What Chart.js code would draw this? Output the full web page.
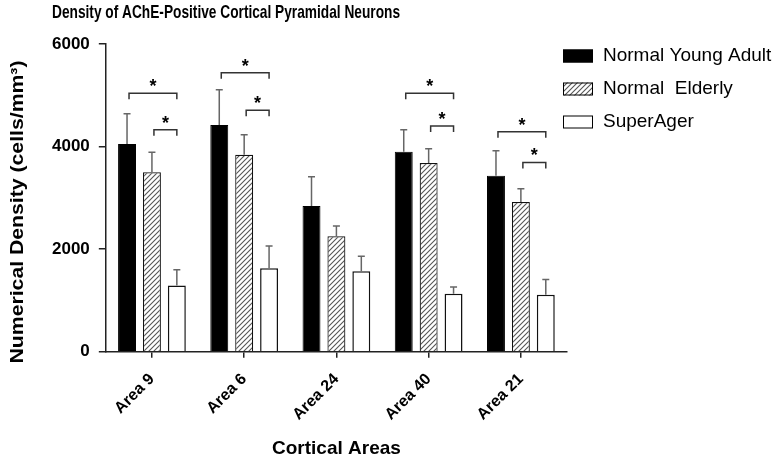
<!DOCTYPE html>
<html>
<head>
<meta charset="utf-8">
<script src="https://cdn.jsdelivr.net/npm/chart.js"></script>
<style>
  html, body { margin: 0; padding: 0; background: #fff; }
  #wrap { width: 773px; height: 461px; }
</style>
</head>
<body>
<div id="wrap"><canvas id="c"></canvas></div>
<script>
const categories = ['Area 9', 'Area 6', 'Area 24', 'Area 40', 'Area 21'];
const seriesNames = ['Normal Young Adult', 'Normal  Elderly', 'SuperAger'];
const youngAdult = [4050, 4420, 2840, 3900, 3430];
const elderly = [3500, 3840, 2250, 3680, 2920];
const superAger = [1290, 1630, 1570, 1130, 1110];
// upward error bars (SEM)
const youngErr = [590, 690, 570, 430, 490];
const elderlyErr = [390, 390, 200, 280, 260];
const superErr = [310, 430, 290, 130, 300];
// significance brackets: young vs superager, elderly vs superager
const bracketBig = [5040, 5440, null, 5040, 4290];
const bracketSmall = [4330, 4710, null, 4400, 3690];
const yTicks = [0, 2000, 4000, 6000];

const FONT = "'Liberation Sans', Arial, sans-serif";
const canvas = document.getElementById('c');
const ctx0 = canvas.getContext('2d');

function makeHatch() {
  const p = document.createElement('canvas');
  p.width = 5; p.height = 5;
  const g = p.getContext('2d');
  g.fillStyle = '#fff';
  g.fillRect(0, 0, 5, 5);
  g.strokeStyle = '#555';
  g.lineWidth = 1.1;
  g.beginPath();
  g.moveTo(0, 5); g.lineTo(5, 0);
  g.moveTo(-2.5, 2.5); g.lineTo(2.5, -2.5);
  g.moveTo(2.5, 7.5); g.lineTo(7.5, 2.5);
  g.stroke();
  return ctx0.createPattern(p, 'repeat');
}
const hatch = makeHatch();

const errors = [youngErr, elderlyErr, superErr];

const errorBarPlugin = {
  id: 'errorBars',
  afterDatasetsDraw(chart) {
    const ctx = chart.ctx;
    const y = chart.scales.y;
    ctx.save();
    ctx.strokeStyle = '#666';
    ctx.lineWidth = 1.5;
    chart.data.datasets.forEach((ds, i) => {
      const meta = chart.getDatasetMeta(i);
      meta.data.forEach((bar, j) => {
        const top = y.getPixelForValue(ds.data[j] + errors[i][j]);
        ctx.beginPath();
        ctx.moveTo(bar.x, bar.y);
        ctx.lineTo(bar.x, top);
        ctx.moveTo(bar.x - 3.5, top);
        ctx.lineTo(bar.x + 3.5, top);
        ctx.stroke();
      });
    });
    ctx.restore();
  }
};

const bracketPlugin = {
  id: 'brackets',
  afterDatasetsDraw(chart) {
    const ctx = chart.ctx;
    const y = chart.scales.y;
    const m0 = chart.getDatasetMeta(0), m1 = chart.getDatasetMeta(1), m2 = chart.getDatasetMeta(2);
    ctx.save();
    ctx.strokeStyle = '#333';
    ctx.lineWidth = 1.5;
    ctx.fillStyle = '#000';
    ctx.font = 'bold 18px ' + FONT;
    ctx.textAlign = 'center';
    ctx.textBaseline = 'middle';
    const draw = (x1, x2, v) => {
      const py = y.getPixelForValue(v);
      ctx.beginPath();
      ctx.moveTo(x1, py + 6);
      ctx.lineTo(x1, py);
      ctx.lineTo(x2, py);
      ctx.lineTo(x2, py + 6);
      ctx.stroke();
      ctx.fillText('*', (x1 + x2) / 2, py - 6);
    };
    categories.forEach((c, j) => {
      if (bracketBig[j] != null) draw(m0.data[j].x + 2, m2.data[j].x, bracketBig[j]);
      if (bracketSmall[j] != null) draw(m1.data[j].x + 2, m2.data[j].x, bracketSmall[j]);
    });
    ctx.restore();
  }
};

function fitText(ctx, text, x, y, targetWidth, rotate) {
  const w = ctx.measureText(text).width;
  ctx.save();
  ctx.translate(x, y);
  if (rotate) ctx.rotate(-Math.PI / 2);
  ctx.scale(targetWidth / w, 1);
  ctx.fillText(text, 0, 0);
  ctx.restore();
}

const decorPlugin = {
  id: 'decor',
  afterDraw(chart) {
    const ctx = chart.ctx;
    ctx.save();
    ctx.fillStyle = '#000';
    ctx.textBaseline = 'middle';
    // title (condensed look of the original)
    ctx.font = 'bold 19px ' + FONT;
    ctx.textAlign = 'left';
    fitText(ctx, 'Density of AChE-Positive Cortical Pyramidal Neurons', 52, 13, 348, false);
    // y axis title
    ctx.font = 'bold 18px ' + FONT;
    ctx.textAlign = 'center';
    fitText(ctx, 'Numerical Density (cells/mm³)', 18, 212, 303, true);
    // legend
    ctx.textAlign = 'left';
    ctx.font = '19px ' + FONT;
    const rows = [56, 89, 122];
    chart.data.datasets.forEach((ds, i) => {
      ctx.fillStyle = ds.backgroundColor;
      ctx.fillRect(563, rows[i] - 6.5, 30, 13);
      ctx.strokeStyle = '#000';
      ctx.lineWidth = 1;
      ctx.strokeRect(563.5, rows[i] - 6, 29, 12);
      ctx.fillStyle = '#000';
      ctx.fillText(seriesNames[i], 603, rows[i]);
    });
    ctx.restore();
  }
};

new Chart(canvas, {
  type: 'bar',
  data: {
    labels: categories,
    datasets: [
      { label: seriesNames[0], data: youngAdult, backgroundColor: '#000', borderColor: '#000', borderWidth: 1 },
      { label: seriesNames[1], data: elderly, backgroundColor: hatch, borderColor: '#111', borderWidth: 1.2 },
      { label: seriesNames[2], data: superAger, backgroundColor: '#fff', borderColor: '#111', borderWidth: 1.5 }
    ]
  },
  options: {
    responsive: true,
    maintainAspectRatio: false,
    animation: false,
    layout: { padding: { top: 44, right: 206, left: 43, bottom: 0 } },
    datasets: { bar: { categoryPercentage: 0.81, barPercentage: 0.72 } },
    plugins: {
      legend: { display: false },
      tooltip: { enabled: false }
    },
    scales: {
      x: {
        grid: { display: true, drawOnChartArea: false, offset: false, color: '#222', lineWidth: 1.5, tickLength: 6 },
        border: { color: '#222', width: 1.5 },
        ticks: { color: '#000', font: { family: FONT, size: 16, weight: 'bold' }, minRotation: 45, maxRotation: 45, padding: 12 },
        title: { display: true, text: 'Cortical Areas', color: '#000', font: { family: FONT, size: 19, weight: 'bold' }, padding: { top: 1, bottom: 1 } }
      },
      y: {
        min: 0, max: 6000,
        afterBuildTicks(axis) { axis.ticks = yTicks.map(v => ({ value: v })); },
        grid: { display: true, drawOnChartArea: false, color: '#222', lineWidth: 1.5, tickLength: 7 },
        border: { color: '#222', width: 1.5 },
        ticks: { color: '#000', font: { family: FONT, size: 17, weight: 'bold' }, padding: 9, callback: v => String(v) }
      }
    }
  },
  plugins: [errorBarPlugin, bracketPlugin, decorPlugin]
});
</script>
</body>
</html>
